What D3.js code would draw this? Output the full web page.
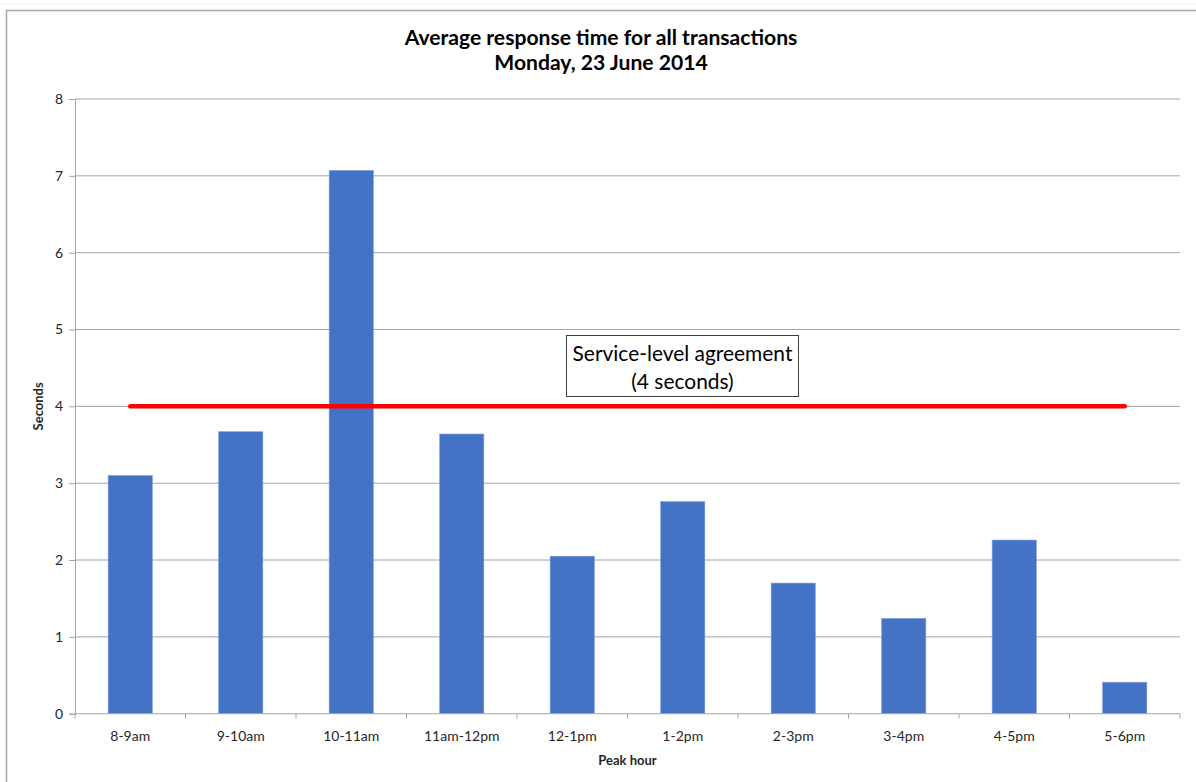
<!DOCTYPE html>
<html>
<head>
<meta charset="utf-8">
<script src="https://cdn.jsdelivr.net/npm/d3@7"></script>
<style>
  html, body { margin: 0; padding: 0; background: #fff; }
  svg { display: block; font-family: Lato, "Open Sans", sans-serif; }
</style>
</head>
<body>
<svg id="chart" width="1196" height="782"></svg>
<script>
// Peak-hour buckets and their average response times (seconds)
const hours = ["8-9am", "9-10am", "10-11am", "11am-12pm", "12-1pm", "1-2pm", "2-3pm", "3-4pm", "4-5pm", "5-6pm"];
const seconds = [3.10, 3.67, 7.07, 3.64, 2.05, 2.76, 1.70, 1.24, 2.26, 0.41];
const yTicks = [0, 1, 2, 3, 4, 5, 6, 7, 8];
const slaSeconds = 4;
const titleLines = ["Average response time for all transactions", "Monday, 23 June 2014"];
const slaLabel = ["Service-level agreement", "(4 seconds)"];

const svg = d3.select("#chart");
const W = 1196, H = 782;
const plot = { left: 75, right: 1180, top: 99, bottom: 713.7 };

// chart area frame
svg.append("line").attr("x1", 0).attr("x2", W).attr("y1", 4).attr("y2", 4)
  .attr("stroke", "#eeeeee").attr("stroke-width", 1);
svg.append("rect").attr("x", 6.5).attr("y", 10.5).attr("width", W).attr("height", H)
  .attr("fill", "#fff").attr("stroke", "#a6a6a6").attr("stroke-width", 1.5);

const x = d3.scaleBand().domain(hours).range([plot.left, plot.right])
  .paddingInner(0.6).paddingOuter(0.3);
const y = d3.scaleLinear().domain([0, 8]).range([plot.bottom, plot.top]);

// horizontal gridlines
svg.append("g").selectAll("line").data(yTicks.filter(d => d > 0)).join("line")
  .attr("x1", plot.left).attr("x2", plot.right)
  .attr("y1", d => y(d)).attr("y2", d => y(d))
  .attr("stroke", "#a5a5a5").attr("stroke-width", 1);

// y axis
const yAxis = svg.append("g").attr("transform", `translate(${plot.left},0)`)
  .call(d3.axisLeft(y).tickValues(yTicks).tickSize(6).tickPadding(6).tickFormat(d3.format("d")));
yAxis.select(".domain").attr("stroke", "#a5a5a5");
yAxis.selectAll(".tick line").attr("stroke", "#a5a5a5");
yAxis.selectAll(".tick text").attr("font-family", "Lato, sans-serif").attr("font-size", 14).attr("fill", "#262626");

// bars
svg.append("g").selectAll("rect").data(hours).join("rect")
  .attr("x", d => x(d)).attr("width", x.bandwidth())
  .attr("y", (d, i) => y(seconds[i])).attr("height", (d, i) => y(0) - y(seconds[i]))
  .attr("fill", "#4472c4").attr("stroke", "#7f9fd9").attr("stroke-width", 0.6);

// x axis with category-boundary ticks
const xg = svg.append("g").attr("transform", `translate(0,${plot.bottom})`);
xg.append("line").attr("x1", plot.left).attr("x2", plot.right).attr("y1", 0).attr("y2", 0)
  .attr("stroke", "#a5a5a5").attr("stroke-width", 1);
const step = x.step();
const bounds = d3.range(hours.length + 1).map(i => x(hours[0]) - step * x.paddingOuter() + i * step);
xg.selectAll(".bt").data(bounds).join("line").attr("class", "bt")
  .attr("x1", d => d).attr("x2", d => d).attr("y1", 0).attr("y2", 5)
  .attr("stroke", "#a5a5a5");
xg.selectAll(".xl").data(hours).join("text").attr("class", "xl")
  .attr("x", d => x(d) + x.bandwidth() / 2).attr("y", 22)
  .attr("dy", "0.35em").attr("text-anchor", "middle")
  .attr("font-size", 14).attr("fill", "#262626").text(d => d);

// axis titles
svg.append("text").attr("x", (plot.left + plot.right) / 2).attr("y", 760).attr("dy", "0.35em")
  .attr("text-anchor", "middle").attr("font-weight", "bold").attr("font-size", 13)
  .attr("fill", "#262626").text("Peak hour");
svg.append("text").attr("transform", `translate(38,${(plot.top + plot.bottom) / 2}) rotate(-90)`)
  .attr("dy", "0.35em").attr("text-anchor", "middle").attr("font-weight", "bold").attr("font-size", 13)
  .attr("fill", "#262626").text("Seconds");

// helper: shrink/grow a text node to a target width
function fitWidth(sel, target) {
  const node = sel.node();
  const fs = parseFloat(sel.attr("font-size"));
  const w = node.getComputedTextLength();
  if (w > 0) sel.attr("font-size", fs * target / w);
}

// title
const t1 = svg.append("text").attr("x", 601).attr("y", 38).attr("dy", "0.35em")
  .attr("text-anchor", "middle").attr("font-weight", "bold").attr("font-size", 19)
  .attr("fill", "#000").text(titleLines[0]);
fitWidth(t1, 393);
const t2 = svg.append("text").attr("x", 601).attr("y", 63).attr("dy", "0.35em")
  .attr("text-anchor", "middle").attr("font-weight", "bold")
  .attr("fill", "#000").text(titleLines[1]).attr("font-size", t1.attr("font-size"));

// service-level line
const xFirst = x(hours[0]) + x.bandwidth() / 2;
const xLast = x(hours[hours.length - 1]) + x.bandwidth() / 2;
svg.append("line").attr("x1", xFirst).attr("x2", xLast)
  .attr("y1", y(slaSeconds)).attr("y2", y(slaSeconds))
  .attr("stroke", "#ff0000").attr("stroke-width", 4.5).attr("stroke-linecap", "round");

// service-level annotation box
const box = { x: 566.5, y: 335.5, w: 232, h: 61 };
svg.append("rect").attr("x", box.x).attr("y", box.y).attr("width", box.w).attr("height", box.h)
  .attr("fill", "#fff").attr("stroke", "#404040").attr("stroke-width", 1);
const a1 = svg.append("text").attr("x", box.x + box.w / 2).attr("y", 354).attr("dy", "0.35em")
  .attr("text-anchor", "middle").attr("font-size", 20).attr("fill", "#000").text(slaLabel[0]);
fitWidth(a1, 220);
svg.append("text").attr("x", box.x + box.w / 2).attr("y", 382).attr("dy", "0.35em")
  .attr("text-anchor", "middle").attr("font-size", a1.attr("font-size")).attr("fill", "#000").text(slaLabel[1]);
</script>
</body>
</html>
